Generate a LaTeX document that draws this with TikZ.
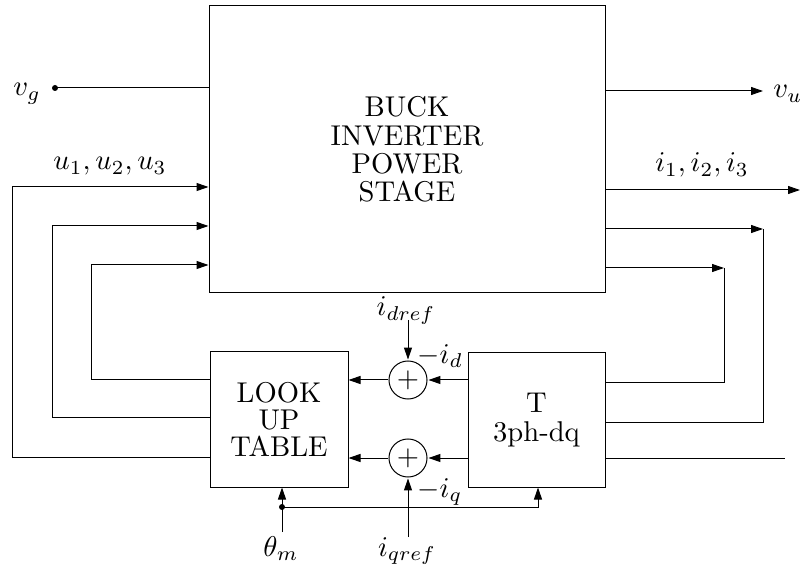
\documentclass[tikz,border=0pt]{standalone}
\usetikzlibrary{arrows.meta}
\begin{document}
\begin{tikzpicture}[x=1pt,y=-1pt,line width=1pt,
  blk/.style={draw,line width=1pt,inner sep=0pt},
  txt/.style={scale=2.86,inner sep=0pt,align=center,font=\fontsize{10}{9.5}\selectfont},
  sumnode/.style={draw,circle,scale=2.86,minimum size=13.3pt,inner sep=0pt},
  arr/.style={-{Triangle[length=12pt,width=8pt]}},
  lbl/.style={scale=2.86,inner sep=0pt}]
\useasboundingbox (0,0) rectangle (801,569);
% blocks
\node[blk,minimum width=396pt,minimum height=287pt] (ps) at (407,149.5) {};
\node[txt,font=\fontsize{10}{9.9}\selectfont] (pstxt) at (ps.center) {BUCK\\INVERTER\\POWER\\STAGE};
\node[blk,minimum width=138pt,minimum height=135pt] (lut) at (279,419.5) {};
\node[txt,font=\fontsize{10}{9.3}\selectfont] (luttxt) at (lut.center) {LOOK\\UP\\TABLE};
\node[blk,minimum width=137pt,minimum height=134pt] (tr) at (536.5,420) {};
\node[txt,font=\fontsize{10}{10}\selectfont] (trtxt) at (tr.center) {T\\3ph-dq};
\node[sumnode] (sd) at (408,380) {$+$};
\node[sumnode] (sq) at (408,458) {$+$};
% v_g input
\coordinate (vgdot) at (55,88);
\fill (vgdot) circle (3pt);
\draw (vgdot) -- (ps.west |- vgdot);
\node[lbl,anchor=base] (vg) at (27,96) {$v_g$};
% v_u output
\coordinate (vuend) at (763,91);
\draw[arr] (ps.east |- vuend) -- (vuend);
\node[lbl,anchor=base west] (vu) at (772,98) {$v_u$};
% u feedback lines
\draw[arr] (lut.west |- 0,457) -| (12,187) -- (ps.west |- 0,187);
\draw[arr] (lut.west |- 0,417) -| (52,226) -- (ps.west |- 0,226);
\draw[arr] (lut.west |- 0,380) -| (91,265) -- (ps.west |- 0,265);
\node[lbl,anchor=base] (ulbl) at (110,170) {$u_1, u_2, u_3$};
% i outputs
\coordinate (iend) at (800,190);
\draw[arr] (ps.east |- iend) -- (iend);
\node[lbl,anchor=base] (ilbl) at (702,172) {$i_1, i_2, i_3$};
\coordinate (ra) at (763,229);
\coordinate (rb) at (724,268);
\draw[arr] (ps.east |- ra) -- (ra);
\draw (ra) |- (tr.east |- 0,422);
\draw[arr] (ps.east |- rb) -- (rb);
\draw (rb) |- (tr.east |- 0,383);
\coordinate (rc) at (785,458);
\draw (tr.east |- rc) -- (rc);
% transform to sums to LUT
\draw[arr] (tr.west |- sd) -- (sd.east);
\draw[arr] (sd.west) -- (lut.east |- sd);
\draw[arr] (tr.west |- sq) -- (sq.east);
\draw[arr] (sq.west) -- (lut.east |- sq);
% references
\coordinate (dtop) at (408,320);
\draw[arr] (dtop) -- (sd.north);
\node[lbl,anchor=base] (idref) at (406,316) {$i_{dref}$};
\node[lbl,anchor=base west] (mid) at (416,363) {$-i_d$};
\coordinate (qbot) at (408,537);
\draw[arr] (qbot) -- (sq.south);
\node[lbl,anchor=base] (iqref) at (407,556) {$i_{qref}$};
\node[lbl,anchor=base west] (miq) at (416,497) {$-i_q$};
% theta_m
\coordinate (thdot) at (282,507);
\coordinate (thbot) at (282,532);
\fill (thdot) circle (3pt);
\draw (thbot) -- (thdot);
\draw[arr] (thdot) -- (lut.south -| thdot);
\draw[arr] (thdot) -| (tr.south -| 538,0);
\node[lbl,anchor=base] (th) at (281,556) {$\theta_m$};
\end{tikzpicture}
\end{document}
